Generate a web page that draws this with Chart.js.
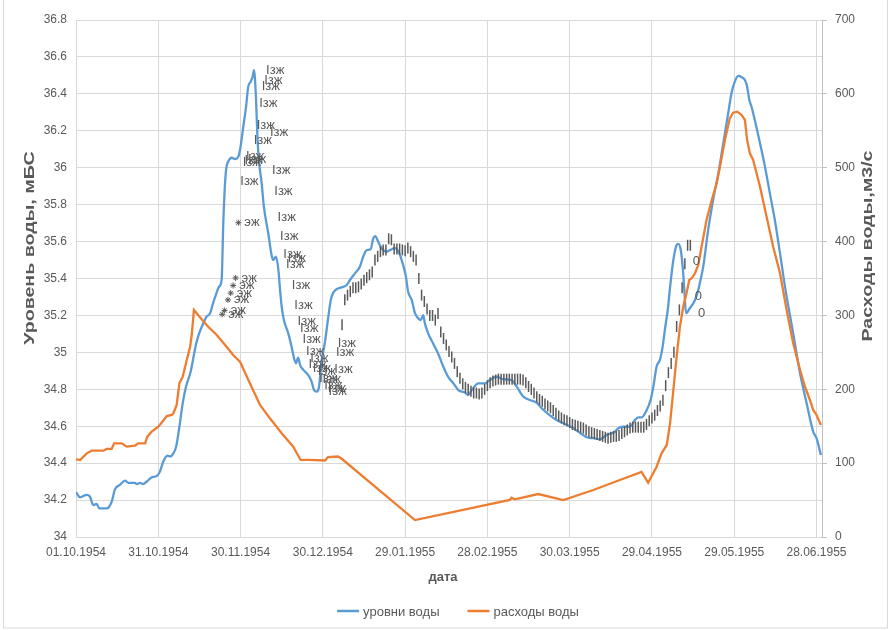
<!DOCTYPE html>
<html>
<head>
<meta charset="utf-8">
<script src="https://cdn.jsdelivr.net/npm/chart.js@4.4.1/dist/chart.umd.min.js"></script>
<style>
  html, body { margin: 0; padding: 0; background: #fff; }
</style>
</head>
<body>
<canvas id="chart" width="892" height="630"></canvas>
<script>
// ось X: дни от 01.10.1954
const tickDays = [0, 30, 60, 90, 120, 150, 180, 210, 240, 270];
const tickLabels = ['01.10.1954', '31.10.1954', '30.11.1954', '30.12.1954', '29.01.1955',
                    '28.02.1955', '30.03.1955', '29.04.1955', '29.05.1955', '28.06.1955'];

// уровни воды, мБС
const levelDays = [0, 1.5, 3.9, 5.1, 6.3, 7.5, 8.5, 11.2, 13.0, 14.2, 16.0, 17.9, 19.1, 21.5, 22.1, 23.3, 24.5, 25.8,
  27.6, 29.4, 30.6, 31.8, 33.3, 34.5, 35.5, 36.5, 37.7, 38.9, 40.1, 41.8, 43.7, 44.9, 46.4, 47.6, 48.9, 49.8,
  51.0, 52.2, 53.1, 53.7, 54.3, 54.8, 55.5, 56.8, 58.0, 59.2, 59.8, 61.0, 62.0, 62.8, 63.7, 64.4, 64.9, 65.6,
  66.2, 66.8, 67.7, 68.5, 70.1, 71.3, 71.9, 72.9, 73.8, 74.4, 75.0, 75.8, 77.4, 78.6, 79.5, 80.2, 81.0, 81.7,
  82.9, 84.7, 85.9, 86.8, 87.8, 88.6, 89.6, 90.8, 92.0, 92.9, 93.8, 95.0, 96.9, 98.7, 99.9, 101.7, 103.5, 104.7,
  106.0, 107.4, 108.4, 109.1, 110.2, 111.4, 113.3, 114.5, 116.3, 117.9, 119.1, 120.3, 121.1, 122.4, 123.6, 124.8,
  125.7, 126.6, 127.2, 128.4, 130.3, 132.1, 133.9, 135.7, 137.6, 139.4, 141.8, 143.0, 144.3, 146.7, 149.1, 150.9,
  153.4, 155.8, 158.8, 160.7, 163.1, 165.5, 168.0, 169.8, 172.2, 175.2, 177.7, 180.7, 183.7, 186.2, 188.6, 191.0,
  193.5, 196.5, 197.7, 199.5, 202.0, 203.8, 205.0, 206.2, 208.1, 209.5, 210.5, 211.7, 212.9, 213.9, 214.7, 215.9,
  216.5, 217.8, 219.0, 219.6, 220.5, 221.2, 221.8, 222.4, 223.8, 225.7, 226.9, 227.7, 228.7, 230.5, 232.3, 234.2,
  236.0, 237.8, 239.0, 240.2, 241.5, 242.7, 243.9, 244.7, 245.5, 246.3, 247.5, 249.4, 251.2, 253.0, 254.8, 256.7,
  258.5, 261.5, 264.0, 266.4, 268.8, 270.0, 271.6];
const levelValues = [34.242, 34.215, 34.228, 34.218, 34.173, 34.179, 34.155, 34.155, 34.191, 34.258, 34.282, 34.305,
  34.293, 34.293, 34.287, 34.293, 34.287, 34.300, 34.323, 34.330, 34.354, 34.408, 34.440, 34.437, 34.453, 34.489,
  34.597, 34.724, 34.814, 34.895, 35.040, 35.103, 35.157, 35.193, 35.212, 35.257, 35.311, 35.356, 35.392, 35.699,
  35.906, 35.998, 36.033, 36.054, 36.047, 36.060, 36.096, 36.222, 36.330, 36.439, 36.466, 36.493, 36.529, 36.385,
  36.150, 36.024, 35.916, 35.789, 35.645, 35.527, 35.500, 35.518, 35.446, 35.338, 35.247, 35.175, 35.103, 35.031,
  34.968, 34.941, 34.971, 34.932, 34.905, 34.877, 34.841, 34.796, 34.787, 34.814, 34.959, 35.058, 35.193, 35.284,
  35.323, 35.342, 35.352, 35.365, 35.392, 35.428, 35.464, 35.518, 35.554, 35.558, 35.618, 35.630, 35.599, 35.564,
  35.545, 35.554, 35.564, 35.536, 35.482, 35.410, 35.328, 35.284, 35.212, 35.184, 35.175, 35.202, 35.157, 35.103,
  35.045, 34.991, 34.923, 34.867, 34.832, 34.796, 34.782, 34.769, 34.796, 34.832, 34.832, 34.850, 34.868, 34.854,
  34.850, 34.814, 34.760, 34.742, 34.727, 34.697, 34.666, 34.634, 34.616, 34.594, 34.565, 34.540, 34.535, 34.529,
  34.553, 34.570, 34.589, 34.597, 34.597, 34.634, 34.648, 34.648, 34.688, 34.742, 34.814, 34.923, 34.959, 35.031,
  35.121, 35.247, 35.338, 35.500, 35.581, 35.587, 35.554, 35.464, 35.338, 35.212, 35.239, 35.284, 35.338, 35.392,
  35.464, 35.663, 35.825, 35.970, 36.132, 36.295, 36.403, 36.466, 36.497, 36.490, 36.475, 36.439, 36.367, 36.330,
  36.258, 36.132, 36.006, 35.861, 35.717, 35.536, 35.356, 35.103, 34.887, 34.724, 34.570, 34.535, 34.444];

// расходы воды, м3/с
const flowDays = [0, 1.5, 3.9, 5.7, 10.0, 11.2, 13.0, 13.9, 16.7, 18.5, 21.5, 22.7, 25.2, 26.0, 27.6, 30.0, 31.2,
  33.1, 34.9, 35.5, 36.7, 37.7, 38.9, 40.1, 41.6, 42.2, 43.0, 45.2, 48.2, 51.3, 54.9, 57.3, 59.8, 63.4, 67.1, 70.7,
  75.0, 79.2, 81.9, 84.7, 90.8, 91.9, 95.5, 97.0, 123.6, 158.2, 158.8, 160.0, 168.5, 177.7, 188.6, 198.3, 206.2,
  208.6, 211.7, 213.5, 215.4, 216.6, 217.8, 219.0, 220.2, 221.4, 222.6, 223.6, 224.5, 225.7, 226.9, 228.1, 229.9,
  231.8, 233.6, 234.8, 236.6, 238.4, 239.6, 241.1, 242.7, 243.9, 244.7, 245.7, 246.9, 249.4, 251.8, 254.2, 256.7,
  259.1, 261.5, 264.0, 265.8, 267.6, 268.8, 270.0, 271.6];
const flowValues = [105.2, 104.3, 113.3, 116.9, 116.9, 119.2, 119.2, 126.9, 126.9, 122.3, 123.6, 126.9, 126.9, 135.8,
  142.6, 149.3, 154.8, 163.8, 165.2, 167.5, 178.7, 208.1, 217.0, 235.2, 257.7, 273.5, 307.4, 297.5, 284.7, 273.5,
  257.7, 246.4, 237.4, 208.1, 178.7, 160.7, 140.4, 122.3, 104.3, 104.3, 103.6, 108.3, 109.0, 105.6, 23.0, 50.1,
  53.2, 51.0, 58.2, 50.1, 63.6, 77.2, 88.0, 73.5, 95.2, 113.3, 124.6, 153.9, 199.0, 244.1, 284.7, 311.8, 330.0,
  348.0, 350.3, 357.1, 368.3, 393.1, 429.2, 456.3, 478.9, 501.4, 537.5, 566.9, 574.5, 575.9, 571.4, 564.6, 537.5,
  519.5, 510.5, 474.3, 433.7, 393.1, 357.1, 307.4, 262.3, 226.1, 203.4, 185.5, 172.0, 165.2, 151.6];

// ледовые отметки "I"
const iceDays = [97, 98, 99, 100, 101, 102, 103, 104, 105, 106, 107, 108, 109, 110, 111, 112, 113, 114, 115, 116,
  117, 118, 119, 120, 121, 122, 123, 124, 125, 126, 127, 128, 129, 130, 131, 132, 133, 134, 135, 136, 137, 138, 139,
  140, 141, 142, 143, 144, 145, 146, 147, 148, 149, 150, 151, 152, 153, 154, 155, 156, 157, 158, 159, 160, 161, 162,
  163, 164, 165, 166, 167, 168, 169, 170, 171, 172, 173, 174, 175, 176, 177, 178, 179, 180, 181, 182, 183, 184, 185,
  186, 187, 188, 189, 190, 191, 192, 193, 194, 195, 196, 197, 198, 199, 200, 201, 202, 203, 204, 205, 206, 207, 208,
  209, 210, 211, 212, 213, 214, 215, 216, 217, 218, 219, 220, 221, 222, 223, 224];
const iceLevels = [35.15, 35.285, 35.31, 35.33, 35.35, 35.35, 35.355, 35.37, 35.39, 35.405, 35.42, 35.435, 35.50,
  35.52, 35.545, 35.555, 35.555, 35.615, 35.61, 35.56, 35.56, 35.56, 35.555, 35.55, 35.565, 35.545, 35.52, 35.50,
  35.40, 35.31, 35.275, 35.235, 35.20, 35.20, 35.175, 35.21, 35.11, 35.075, 35.04, 35.005, 34.975, 34.94, 34.895,
  34.86, 34.83, 34.81, 34.80, 34.79, 34.78, 34.78, 34.775, 34.78, 34.80, 34.82, 34.835, 34.845, 34.85, 34.855,
  34.855, 34.855, 34.855, 34.855, 34.855, 34.855, 34.855, 34.855, 34.85, 34.835, 34.815, 34.80, 34.78, 34.76,
  34.745, 34.735, 34.72, 34.71, 34.70, 34.685, 34.67, 34.655, 34.645, 34.635, 34.63, 34.62, 34.61, 34.605, 34.60,
  34.595, 34.59, 34.58, 34.57, 34.565, 34.56, 34.555, 34.55, 34.545, 34.54, 34.535, 34.54, 34.545, 34.545, 34.55,
  34.56, 34.57, 34.58, 34.59, 34.595, 34.595, 34.595, 34.595, 34.595, 34.61, 34.63, 34.645, 34.66, 34.685, 34.71,
  34.74, 34.82, 34.89, 34.94, 35.00, 35.14, 35.23, 35.35, 35.48, 35.58, 35.58];

// отметки "Ізж"
const zhDays = [69.3, 68.6, 67.7, 66.8, 65.9, 70.7, 64.8, 62.0, 62.7, 61.4, 60.8, 71.5, 59.9, 72.3, 73.5, 74.4, 75.6,
  77.2, 76.6, 78.7, 79.6, 80.8, 81.7, 82.6, 83.9, 85.4, 84.8, 86.3, 88.1, 88.7, 89.9, 94.2, 90.5, 91.8, 92.1, 95.4, 94.8];
const zhLevels = [36.529, 36.475, 36.439, 36.349, 36.231, 36.192, 36.150, 36.060, 36.047, 36.042, 36.029, 35.988,
  35.928, 35.870, 35.729, 35.626, 35.531, 35.509, 35.477, 35.365, 35.253, 35.170, 35.127, 35.071, 35.007, 34.968,
  34.932, 34.914, 34.895, 34.860, 34.856, 34.910, 34.823, 34.802, 34.787, 35.049, 35.000];

// отметки "* эж"
const ezhDays = [59.2, 58.2, 57.3, 56.4, 55.4, 54.2, 53.3];
const ezhLevels = [35.702, 35.403, 35.362, 35.321, 35.284, 35.227, 35.206];

// прочие подписи
const noteDays = [226.2, 226.9, 228.1];
const noteLevels = [35.491, 35.302, 35.212];
const noteTexts = ['0', '0', '0'];

const xTitle = 'дата';
const yTitle = 'Уровень воды, мБС';
const y2Title = 'Расходы воды,м3/с';

const FONT = '"Liberation Sans", Arial, sans-serif';
const GRAY = '#595959';
const GRID = '#d9d9d9';

function toPoints(xs, ys) {
  return xs.map((x, i) => ({ x: x, y: ys[i] }));
}

// подписи у точек (Ізж, эж, 0)
const notesPlugin = {
  id: 'notes',
  afterDatasetsDraw(chart) {
    const c = chart.ctx;
    chart.data.datasets.forEach((ds, i) => {
      if (!ds.noteText && !ds.noteTexts) return;
      const meta = chart.getDatasetMeta(i);
      c.save();
      c.font = '13px ' + FONT;
      c.fillStyle = GRAY;
      c.textBaseline = 'middle';
      c.textAlign = ds.noteAlign || 'left';
      meta.data.forEach((pt, j) => {
        const t = ds.noteTexts ? ds.noteTexts[j] : ds.noteText;
        c.fillText(t, pt.x + (ds.noteDx || 0), pt.y);
      });
      c.restore();
    });
  }
};

function drawVertical(c, text, x, y) {
  c.save();
  c.translate(x, y);
  c.rotate(-Math.PI / 2);
  c.scale(1.4, 1);
  c.fillText(text, 0, 0);
  c.restore();
}

// заголовки осей, легенда, рамка
const framePlugin = {
  id: 'frame',
  beforeDraw(chart) {
    const c = chart.ctx;
    c.save();
    c.fillStyle = '#fff';
    c.fillRect(0, 0, chart.width, chart.height);
    c.strokeStyle = GRID;
    c.lineWidth = 1;
    c.strokeRect(3.5, -2, 884, 630);
    c.restore();
  },
  afterDraw(chart) {
    const c = chart.ctx;
    c.save();
    c.fillStyle = GRAY;
    c.textAlign = 'center';
    c.textBaseline = 'middle';
    c.font = 'bold 13px ' + FONT;
    c.fillText(xTitle, 443, 577);
    c.font = 'bold 14px ' + FONT;
    drawVertical(c, yTitle, 30, 248);
    drawVertical(c, y2Title, 868, 246);

    const items = chart.data.datasets.filter(d => d.inLegend);
    c.font = '13px ' + FONT;
    const sample = 22, gapText = 4, gapItem = 28, ly = 611;
    const widths = items.map(d => sample + gapText + c.measureText(d.label).width);
    const total = widths.reduce((a, b) => a + b, 0) + gapItem * (items.length - 1);
    let x = 458 - total / 2;
    items.forEach((d, i) => {
      c.strokeStyle = d.borderColor;
      c.lineWidth = 2.5;
      c.beginPath();
      c.moveTo(x, ly);
      c.lineTo(x + sample, ly);
      c.stroke();
      c.textAlign = 'left';
      c.fillText(d.label, x + sample + gapText, ly + 1);
      x += widths[i] + gapItem;
    });
    c.restore();
  }
};

const ctx = document.getElementById('chart').getContext('2d');
new Chart(ctx, {
  type: 'line',
  data: {
    datasets: [
      {
        label: 'уровни воды',
        data: toPoints(levelDays, levelValues),
        borderColor: '#5B9BD5',
        borderWidth: 2.3,
        pointRadius: 0,
        cubicInterpolationMode: 'monotone',
        yAxisID: 'y',
        order: 2,
        inLegend: true
      },
      {
        label: 'расходы воды',
        data: toPoints(flowDays, flowValues),
        borderColor: '#ED7D31',
        borderWidth: 2.3,
        pointRadius: 0,
        tension: 0,
        yAxisID: 'y2',
        order: 1,
        inLegend: true
      },
      {
        type: 'scatter',
        label: 'I',
        data: toPoints(iceDays, iceLevels),
        pointStyle: 'line',
        pointRotation: 90,
        pointRadius: 5.5,
        pointBorderColor: GRAY,
        pointBorderWidth: 1.5,
        yAxisID: 'y',
        order: 0
      },
      {
        type: 'scatter',
        label: 'зж',
        data: toPoints(zhDays, zhLevels),
        pointRadius: 0,
        noteText: 'Ізж',
        yAxisID: 'y',
        order: 0
      },
      {
        type: 'scatter',
        label: 'эж',
        data: toPoints(ezhDays, ezhLevels),
        pointStyle: 'star',
        pointRadius: 3,
        pointBorderColor: GRAY,
        pointBorderWidth: 1,
        noteText: 'эж',
        noteDx: 6,
        yAxisID: 'y',
        order: 0
      },
      {
        type: 'scatter',
        label: '0',
        data: toPoints(noteDays, noteLevels),
        pointRadius: 0,
        noteTexts: noteTexts,
        noteAlign: 'center',
        yAxisID: 'y',
        order: 0
      }
    ]
  },
  options: {
    responsive: false,
    animation: false,
    events: [],
    layout: { padding: { top: 20, left: 0, right: 0, bottom: 0 } },
    plugins: {
      legend: { display: false },
      tooltip: { enabled: false }
    },
    scales: {
      x: {
        type: 'linear',
        min: 0,
        max: 272,
        afterBuildTicks: s => { s.ticks = tickDays.map(v => ({ value: v })); },
        afterFit: s => { s.height = 93; },
        ticks: {
          autoSkip: false,
          maxRotation: 0,
          padding: 8,
          color: GRAY,
          font: { family: FONT, size: 12 },
          callback: v => tickLabels[tickDays.indexOf(v)] || ''
        },
        grid: { color: GRID, drawTicks: false },
        border: { color: GRID }
      },
      y: {
        position: 'left',
        min: 34,
        max: 36.8,
        afterFit: s => { s.width = 76; },
        ticks: {
          stepSize: 0.2,
          padding: 9,
          color: GRAY,
          font: { family: FONT, size: 12 },
          callback: v => String(Math.round(v * 10) / 10)
        },
        grid: { color: GRID, drawTicks: false },
        border: { display: false }
      },
      y2: {
        position: 'right',
        min: 0,
        max: 700,
        afterFit: s => { s.width = 70; },
        ticks: {
          stepSize: 100,
          padding: 8,
          color: GRAY,
          font: { family: FONT, size: 12 }
        },
        grid: { drawOnChartArea: false, drawTicks: true, tickLength: 5, color: '#bfbfbf' },
        border: { color: '#bfbfbf' }
      }
    }
  },
  plugins: [notesPlugin, framePlugin]
});
</script>
</body>
</html>
